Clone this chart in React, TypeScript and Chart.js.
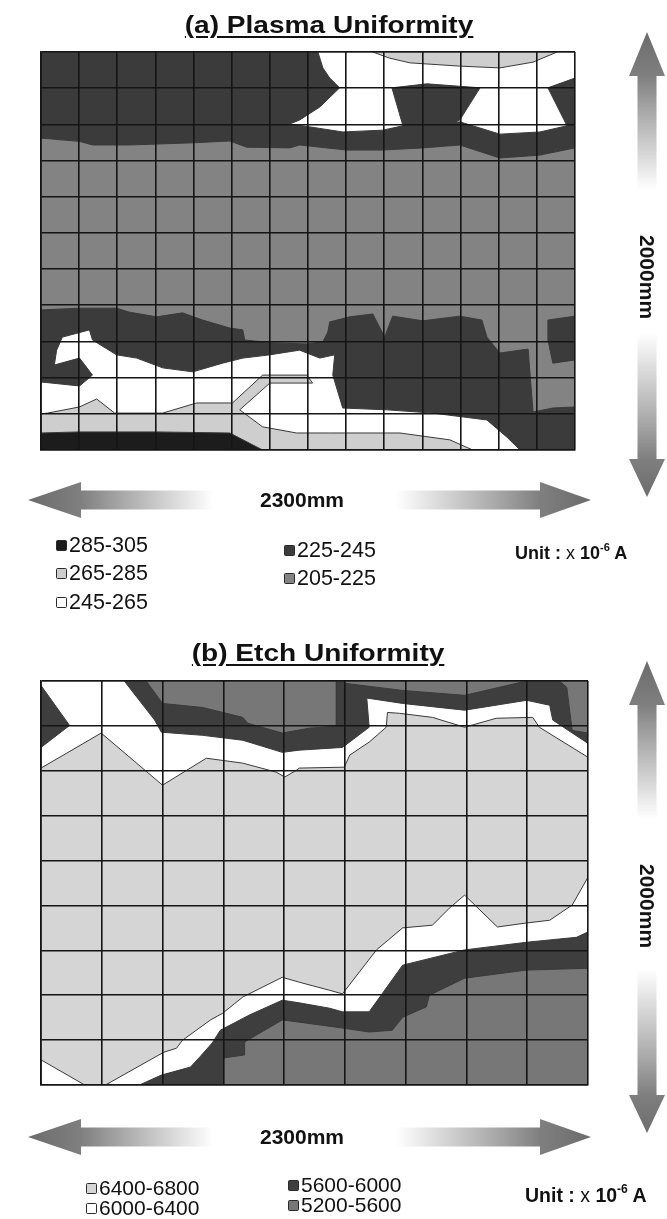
import React, { useEffect, useRef } from 'react';
import { Chart, registerables } from 'chart.js';

Chart.register(...registerables);

type Pt = [number, number];

// ---------------- (a) Plasma Uniformity : 14 x 11 measuring cells ----------------
// x = column index (0..14), y = row index counted from the bottom edge (0..11)
const plasmaColumns = 14;
const plasmaRows = 11;
const plasmaLevels = ['285-305', '265-285', '245-265', '225-245', '205-225'];

const plasmaBase205: Pt[] = [[0, 0], [14, 0], [14, 11], [0, 11]];
const plasmaTop225: Pt[] = [[0, 11], [14, 11], [14, 8.35], [13.08, 8.15], [12.03, 8.07], [10.98, 8.43], [10.01, 8.35], [8.96, 8.29], [8.02, 8.29], [6.78, 8.43], [6.52, 8.35], [5.39, 8.37], [4.95, 8.54], [3.98, 8.49], [2.32, 8.43], [1.35, 8.43], [1.01, 8.53], [0, 8.62]];
const plasmaTop245: Pt[] = [[7.26, 11], [7.39, 10.56], [7.57, 10.28], [7.83, 10.01], [7.31, 9.48], [6.78, 9.12], [6.52, 9.01], [7.05, 8.93], [7.91, 8.79], [8.96, 8.84], [9.49, 8.96], [10.67, 9.01], [10.98, 9.07], [12.03, 8.73], [13.08, 8.79], [13.79, 8.96], [13.29, 10.01], [14, 10.28], [14, 11]];
const plasmaTop265: Pt[] = [[8.7, 11], [9.14, 10.83], [9.67, 10.7], [10.98, 10.61], [12.03, 10.56], [12.9, 10.72], [13.53, 11]];
const plasmaTrapezoid225: Pt[] = [[9.2, 10.01], [10.12, 10.12], [11.51, 10.01], [10.98, 9.12], [10.77, 9.01], [9.49, 8.96]];
const plasmaLow225: Pt[] = [[0, 3.87], [1.01, 3.92], [1.98, 3.92], [2.32, 3.81], [3.03, 3.68], [3.71, 3.79], [4.24, 3.59], [4.95, 3.37], [5.29, 3.32], [5.34, 3.04], [6.07, 2.96], [6.97, 2.93], [7.39, 2.99], [7.52, 3.26], [7.57, 3.54], [8.09, 3.68], [8.7, 3.76], [9.01, 3.12], [9.22, 3.7], [10.01, 3.57], [10.98, 3.7], [11.56, 3.59], [11.69, 3.12], [12.03, 2.68], [12.77, 2.79], [12.9, 1.05], [13.42, 1.16], [14, 1.19], [14, 0], [0, 0]];
const plasmaLow245: Pt[] = [[0, 0], [0, 1.88], [1.01, 1.77], [1.35, 2.07], [1.01, 2.54], [0.35, 2.35], [0.41, 2.76], [0.56, 3.12], [1.27, 3.32], [1.35, 3.04], [1.98, 2.63], [2.51, 2.54], [3.19, 2.27], [3.98, 2.16], [4.76, 2.4], [5.29, 2.54], [6.0, 2.63], [6.78, 2.76], [7.31, 2.54], [7.7, 2.63], [7.65, 2.07], [7.91, 1.16], [9.07, 1.11], [10.27, 1.02], [11.69, 0.83], [12.21, 0.36], [12.56, 0]];
const plasmaLow265: Pt[] = [[0, 0], [0, 1.0], [0.17, 1.02], [1.01, 1.19], [1.46, 1.41], [1.93, 1.02], [3.19, 1.02], [4.08, 1.3], [5.02, 1.3], [5.81, 2.07], [6.97, 2.07], [7.12, 1.85], [6.0, 1.85], [5.21, 1.11], [5.81, 0.64], [6.7, 0.47], [7.57, 0.47], [9.41, 0.47], [10.72, 0.28], [11.32, 0]];
const plasmaLow285: Pt[] = [[0, 0], [0, 0.47], [1.01, 0.5], [3.03, 0.5], [4.95, 0.47], [5.81, 0]];
const plasmaIsland225: Pt[] = [[13.29, 3.59], [14, 3.7], [14, 2.49], [13.42, 2.4], [13.29, 3.04]];

// ---------------- (b) Etch Uniformity : 9 x 9 measuring cells ----------------
const etchColumns = 9;
const etchRows = 9;
const etchLevels = ['6400-6800', '6000-6400', '5600-6000', '5200-5600'];

const etchBase6400: Pt[] = [[0, 0], [9, 0], [9, 9], [0, 9]];
const etchTop6000: Pt[] = [[0, 9], [9, 9], [9, 7.3], [8.2, 7.97], [8.09, 8.19], [7.49, 8.17], [6.97, 7.97], [6.44, 8.19], [5.9, 8.28], [5.7, 8.3], [5.68, 7.97], [5.4, 7.64], [5.08, 7.35], [4.99, 7.08], [4.25, 7.06], [4.2, 7.01], [4.01, 6.86], [3.87, 6.97], [3.32, 7.17], [2.72, 7.28], [2.0, 6.68], [0.99, 7.84], [0, 7.06]];
const etchTop5600: Pt[] = [[1.37, 9], [9, 9], [9, 7.61], [8.42, 8.13], [8.37, 8.46], [7.99, 8.57], [6.97, 8.35], [5.95, 8.5], [5.36, 8.62], [5.4, 7.97], [4.96, 7.52], [4.25, 7.46], [3.97, 7.41], [3.32, 7.68], [2.66, 7.79], [1.98, 7.86], [1.87, 8.13]];
const etchCorner5600: Pt[] = [[0, 8.9], [0.47, 8.01], [0, 7.52]];
const etchTopA5200: Pt[] = [[1.73, 9], [4.86, 9], [4.86, 7.99], [4.42, 7.95], [3.97, 7.84], [3.4, 8.06], [3.32, 8.19], [2.66, 8.41], [2.0, 8.5]];
const etchTopB5200: Pt[] = [[4.99, 9], [7.99, 9], [6.97, 8.68], [5.95, 8.79], [4.99, 8.95]];
const etchTopC5200: Pt[] = [[8.53, 9], [9, 9], [9, 7.84], [8.74, 7.9], [8.65, 8.86]];
const etchLow6000: Pt[] = [[1.06, 0], [2.02, 0.73], [2.23, 0.82], [2.33, 1.0], [2.79, 1.45], [2.99, 1.6], [3.32, 1.96], [3.97, 2.4], [4.25, 2.29], [4.75, 2.11], [4.96, 2.03], [5.52, 3.01], [5.95, 3.5], [6.44, 3.56], [6.72, 3.94], [6.97, 4.23], [7.51, 3.52], [7.99, 3.61], [8.37, 3.67], [8.74, 4.01], [9, 4.63], [9, 0]];
const etchCornerLow6000: Pt[] = [[0, 0], [0, 0.56], [0.72, 0]];
const etchLow5600: Pt[] = [[1.62, 0], [1.98, 0.22], [2.46, 0.4], [2.61, 0.62], [2.82, 0.94], [2.95, 1.22], [3.43, 1.56], [3.97, 1.89], [4.25, 1.83], [4.75, 1.71], [4.96, 1.63], [5.4, 1.63], [5.95, 2.67], [6.97, 3.01], [7.99, 3.18], [8.81, 3.29], [9, 3.41], [9, 0]];
const etchLow5200: Pt[] = [[2.99, 0], [2.99, 0.6], [3.35, 0.67], [3.35, 0.96], [3.97, 1.45], [4.25, 1.4], [4.96, 1.27], [5.4, 1.18], [5.78, 1.22], [5.95, 1.51], [6.34, 1.74], [6.39, 2.0], [6.97, 2.38], [7.99, 2.56], [9, 2.6], [9, 0]];

// ---------------- styles ----------------
const plasmaShade: Record<string, string> = {
  '285-305': '#1c1c1c',
  '265-285': '#cecece',
  '245-265': '#ffffff',
  '225-245': '#3b3b3b',
  '205-225': '#838383',
};
const etchShade: Record<string, string> = {
  '6400-6800': '#d5d5d5',
  '6000-6400': '#ffffff',
  '5600-6000': '#3e3e3e',
  '5200-5600': '#777777',
};

type Layer = { level: string; pts: Pt[]; base?: boolean };

// drawing order: bottom first
const plasmaLayers: Layer[] = [
  { level: '205-225', pts: plasmaBase205, base: true },
  { level: '225-245', pts: plasmaTop225 },
  { level: '245-265', pts: plasmaTop245 },
  { level: '265-285', pts: plasmaTop265 },
  { level: '225-245', pts: plasmaTrapezoid225 },
  { level: '225-245', pts: plasmaLow225 },
  { level: '245-265', pts: plasmaLow245 },
  { level: '265-285', pts: plasmaLow265 },
  { level: '285-305', pts: plasmaLow285 },
  { level: '225-245', pts: plasmaIsland225 },
];
const etchLayers: Layer[] = [
  { level: '6400-6800', pts: etchBase6400, base: true },
  { level: '6000-6400', pts: etchTop6000 },
  { level: '5600-6000', pts: etchTop5600 },
  { level: '5200-5600', pts: etchTopA5200 },
  { level: '5200-5600', pts: etchTopB5200 },
  { level: '5200-5600', pts: etchTopC5200 },
  { level: '5600-6000', pts: etchCorner5600 },
  { level: '6000-6400', pts: etchLow6000 },
  { level: '6000-6400', pts: etchCornerLow6000 },
  { level: '5600-6000', pts: etchLow5600 },
  { level: '5200-5600', pts: etchLow5200 },
];

const FONT = '"Liberation Sans", Arial, Helvetica, sans-serif';

function drawArrow(ctx: CanvasRenderingContext2D, tipX: number, tipY: number, angle: number, length: number, head: number) {
  const headHalf = 18;
  const shaftHalf = 9.5;
  ctx.save();
  ctx.translate(tipX, tipY);
  ctx.rotate(angle);
  const g = ctx.createLinearGradient(0, 0, length, 0);
  g.addColorStop(0, '#6c6c6c');
  g.addColorStop(head / length, '#7f7f7f');
  g.addColorStop(Math.min(0.99, head / length + 0.2), '#a4a4a4');
  g.addColorStop(1, 'rgba(255,255,255,1)');
  ctx.fillStyle = g;
  ctx.beginPath();
  ctx.moveTo(0, 0);
  ctx.lineTo(head, -headHalf);
  ctx.lineTo(head, -shaftHalf);
  ctx.lineTo(length, -shaftHalf);
  ctx.lineTo(length, shaftHalf);
  ctx.lineTo(head, shaftHalf);
  ctx.lineTo(head, headHalf);
  ctx.closePath();
  ctx.fill();
  ctx.restore();
}

const arrowPlugin = {
  id: 'dimArrows',
  afterDraw(chart: any, _args: any, opts: any) {
    const ctx: CanvasRenderingContext2D = chart.ctx;
    const { h, v } = opts;
    if (!h || !v) return;
    drawArrow(ctx, h.leftTip, h.y, 0, h.leftEnd - h.leftTip, 53);
    drawArrow(ctx, h.rightTip, h.y, Math.PI, h.rightTip - h.rightEnd, 51);
    drawArrow(ctx, v.x, v.topTip, Math.PI / 2, v.topEnd - v.topTip, 44);
    drawArrow(ctx, v.x, v.bottomTip, -Math.PI / 2, v.bottomTip - v.bottomEnd, 38);
  },
};

function makeConfig(layers: Layer[], shade: Record<string, string>, cols: number, rows: number, padding: any, arrows: any): any {
  const datasets = layers
    .map((l) => {
      const pts = [...l.pts, l.pts[0]];
      return {
        label: l.level,
        data: pts.map(([x, y]) => ({ x, y })),
        showLine: true,
        fill: 'shape',
        backgroundColor: shade[l.level],
        borderColor: l.base ? 'rgba(0,0,0,0)' : '#3a3a3a',
        borderWidth: l.base ? 0 : 1,
        pointRadius: 0,
        pointHoverRadius: 0,
        tension: 0,
        clip: 0,
      };
    })
    .reverse(); // dataset 0 is painted last (on top)
  const gridLine = { color: '#151515', lineWidth: 1.6, drawTicks: false, z: 1 };
  const border = { display: true, color: '#151515', width: 1.6, z: 1 };
  return {
    type: 'scatter',
    data: { datasets },
    plugins: [arrowPlugin],
    options: {
      animation: false,
      responsive: false,
      events: [],
      layout: { padding },
      plugins: {
        legend: { display: false },
        tooltip: { enabled: false },
        title: { display: false },
        dimArrows: arrows,
      },
      scales: {
        x: {
          type: 'linear',
          min: 0,
          max: cols,
          ticks: { display: false, stepSize: 1 },
          grid: gridLine,
          border,
          afterFit: (s: any) => { s.height = 0; },
        },
        y: {
          type: 'linear',
          min: 0,
          max: rows,
          ticks: { display: false, stepSize: 1 },
          grid: gridLine,
          border,
          afterFit: (s: any) => { s.width = 0; },
        },
      },
    },
  };
}

function ContourCanvas({ config, top, height }: { config: any; top: number; height: number }) {
  const ref = useRef<HTMLCanvasElement>(null);
  useEffect(() => {
    if (!ref.current) return;
    const chart = new Chart(ref.current, config);
    return () => chart.destroy();
  }, []);
  return (
    <canvas
      ref={ref}
      width={667}
      height={height}
      style={{ position: 'absolute', left: 0, top, width: 667, height, display: 'block' }}
    />
  );
}

function Title({ text, cx, baseline }: { text: string; cx: number; baseline: number }) {
  return (
    <div
      style={{
        position: 'absolute',
        left: cx,
        top: baseline - 20.3,
        transform: 'translateX(-50%) scaleX(1.17)',
        fontFamily: FONT,
        fontWeight: 'bold',
        fontSize: 24,
        lineHeight: '24px',
        whiteSpace: 'nowrap',
        color: '#111',
        textDecoration: 'underline',
        textDecorationThickness: '2px',
        textUnderlineOffset: '3px',
      }}
    >
      {text}
    </div>
  );
}

function Dim({ text, cx, cy, rotate }: { text: string; cx: number; cy: number; rotate?: boolean }) {
  return (
    <div
      style={{
        position: 'absolute',
        left: cx,
        top: cy,
        transform: `translate(-50%, -50%)${rotate ? ' rotate(90deg)' : ''}`,
        fontFamily: FONT,
        fontWeight: 'bold',
        fontSize: 21,
        lineHeight: '22px',
        whiteSpace: 'nowrap',
        color: '#111',
      }}
    >
      {text}
    </div>
  );
}

function LegendItem({ label, color, x, cy, size }: { label: string; color: string; x: number; cy: number; size: number }) {
  return (
    <div
      style={{
        position: 'absolute',
        left: x,
        top: cy - 12,
        height: 24,
        display: 'flex',
        alignItems: 'center',
        fontFamily: FONT,
        fontSize: size,
        color: '#111',
        whiteSpace: 'nowrap',
      }}
    >
      <span
        style={{
          display: 'inline-block',
          width: 9,
          height: 9,
          background: color,
          border: '1.5px solid #2a2a2a',
          borderRadius: 1.5,
          marginRight: 2,
        }}
      />
      {label}
    </div>
  );
}

function Unit({ x, cy, size }: { x: number; cy: number; size: number }) {
  return (
    <div
      style={{
        position: 'absolute',
        left: x,
        top: cy - 12,
        height: 24,
        lineHeight: '24px',
        fontFamily: FONT,
        fontWeight: 'bold',
        fontSize: size,
        color: '#111',
        whiteSpace: 'nowrap',
      }}
    >
      Unit : <span style={{ fontWeight: 'normal' }}>x</span> 10
      <span style={{ fontSize: size * 0.62, position: 'relative', top: -size * 0.45 }}>-6</span> A
    </div>
  );
}

export default function App() {
  const plasmaConfig = makeConfig(
    plasmaLayers,
    plasmaShade,
    plasmaColumns,
    plasmaRows,
    { left: 41, right: 92, top: 52, bottom: 170 },
    {
      h: { y: 500, leftTip: 28, leftEnd: 213, rightTip: 591, rightEnd: 396 },
      v: { x: 647, topTip: 32, topEnd: 190, bottomTip: 497, bottomEnd: 333 },
    }
  );
  const etchConfig = makeConfig(
    etchLayers,
    etchShade,
    etchColumns,
    etchRows,
    { left: 41, right: 79, top: 61, bottom: 134 },
    {
      h: { y: 517, leftTip: 28, leftEnd: 213, rightTip: 591, rightEnd: 396 },
      v: { x: 647, topTip: 41, topEnd: 199, bottomTip: 513, bottomEnd: 349 },
    }
  );

  return (
    <div style={{ position: 'absolute', left: 0, top: 0, width: 667, height: 1219, background: '#fff', overflow: 'hidden' }}>
      <ContourCanvas config={plasmaConfig} top={0} height={620} />
      <ContourCanvas config={etchConfig} top={620} height={599} />

      <Title text="(a) Plasma Uniformity" cx={329} baseline={33} />
      <Dim text="2300mm" cx={302} cy={500} />
      <Dim text="2000mm" cx={647} cy={277} rotate />
      {plasmaLevels.slice(0, 3).map((lv, i) => (
        <LegendItem key={lv} label={lv} color={plasmaShade[lv]} x={56} cy={545 + i * 28.5} size={21.5} />
      ))}
      {plasmaLevels.slice(3).map((lv, i) => (
        <LegendItem key={lv} label={lv} color={plasmaShade[lv]} x={284} cy={550 + i * 28.5} size={21.5} />
      ))}
      <Unit x={515} cy={553} size={18} />

      <Title text="(b) Etch Uniformity" cx={318} baseline={661} />
      <Dim text="2300mm" cx={302} cy={1137} />
      <Dim text="2000mm" cx={647} cy={906} rotate />
      {etchLevels.slice(0, 2).map((lv, i) => (
        <LegendItem key={lv} label={lv} color={etchShade[lv]} x={86} cy={1188 + i * 20} size={21} />
      ))}
      {etchLevels.slice(2).map((lv, i) => (
        <LegendItem key={lv} label={lv} color={etchShade[lv]} x={288} cy={1185 + i * 20} size={21} />
      ))}
      <Unit x={525} cy={1195} size={19.5} />
    </div>
  );
}
